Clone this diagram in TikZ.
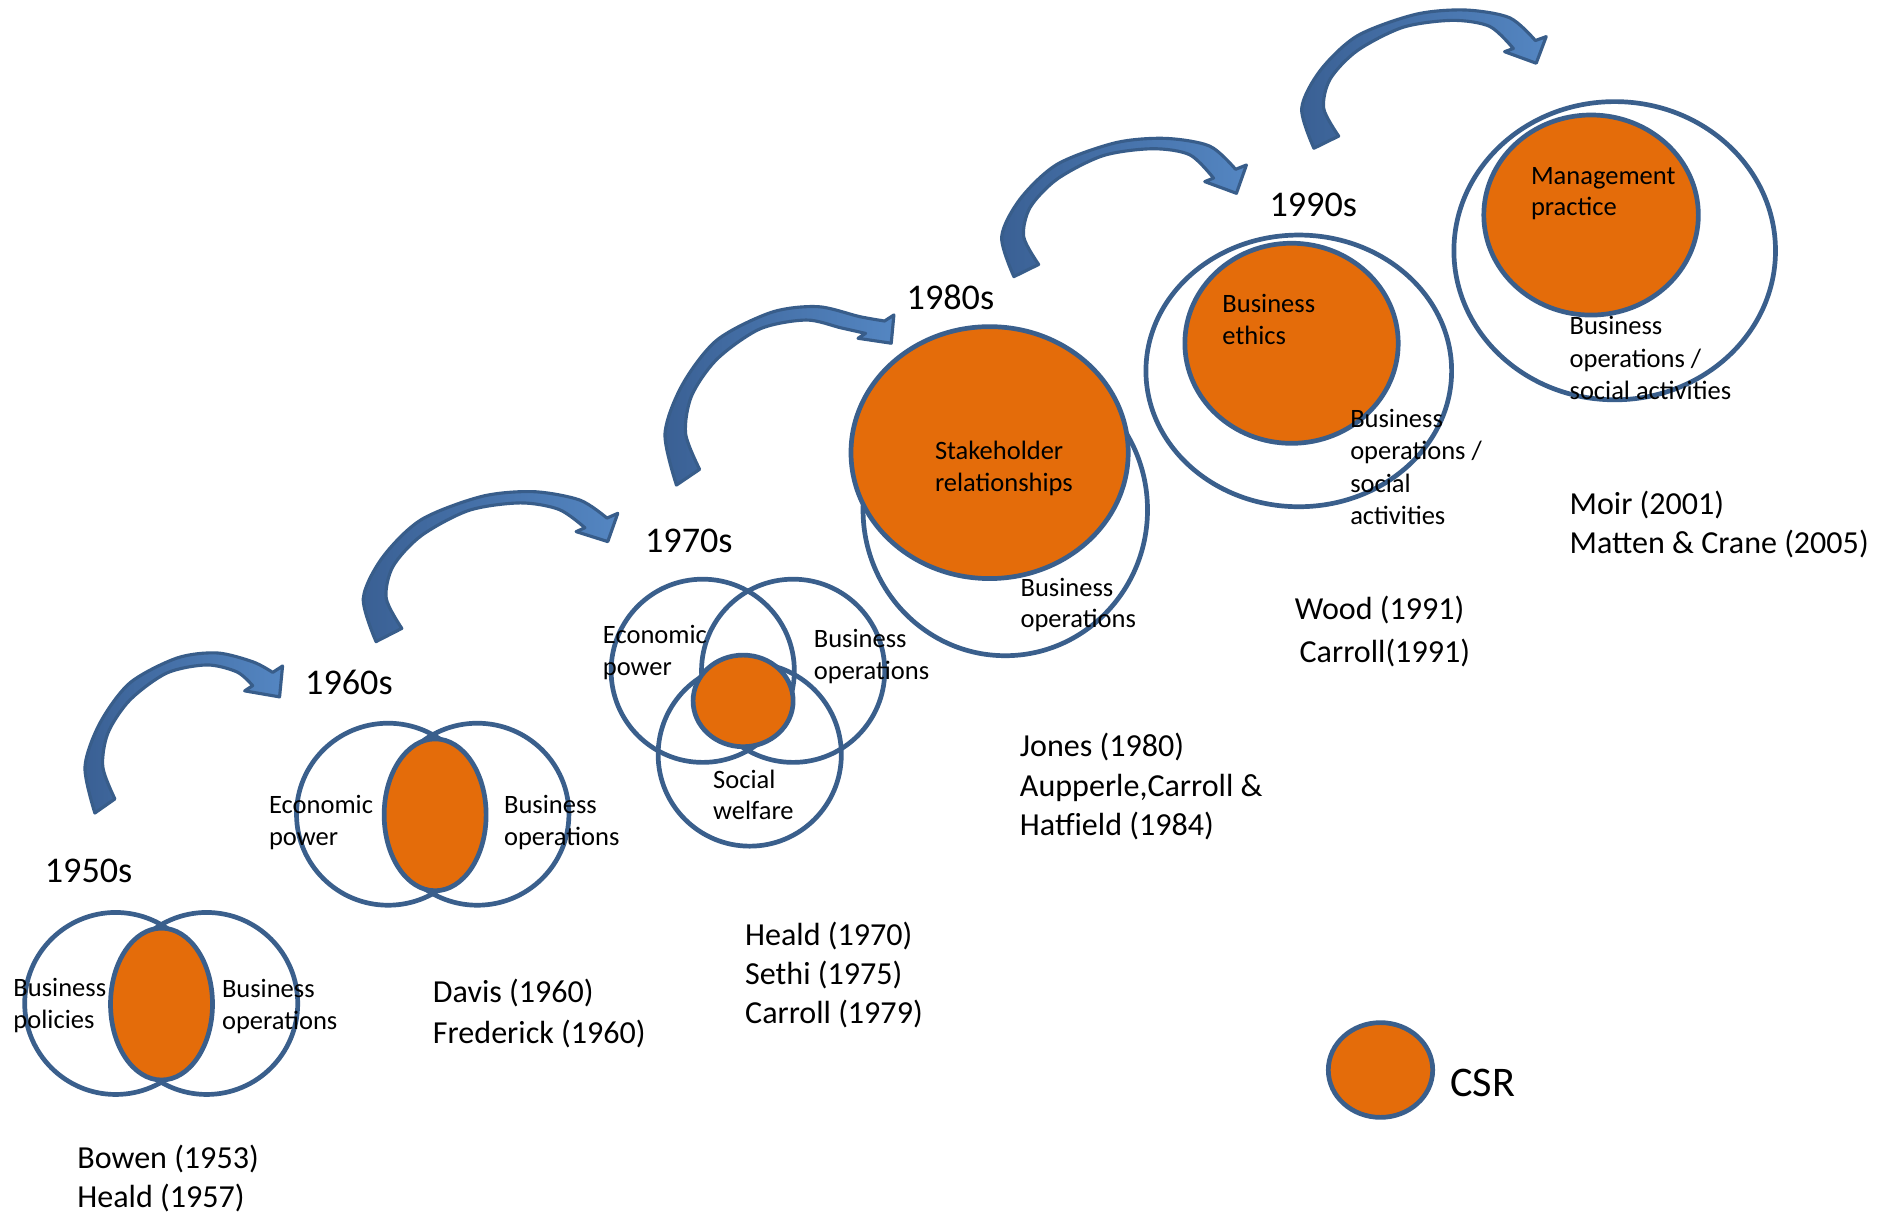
\documentclass[tikz,border=0pt]{standalone}
\usepackage{fontspec}
\setmainfont{Carlito}
\usetikzlibrary{shapes.geometric,calc}
\definecolor{ringblue}{RGB}{58,95,140}
\definecolor{csrorange}{RGB}{228,108,10}
\definecolor{arrowlight}{RGB}{84,134,194}
\definecolor{arrowdark}{RGB}{58,96,148}
\definecolor{arrowline}{RGB}{56,93,138}
\tikzset{
  ring/.style={draw=ringblue, line width=3.9pt, ellipse, inner sep=0pt},
  csr/.style={ring, fill=csrorange},
  lbl/.style={font=\fontsize{22}{27}\selectfont, inner sep=0pt, anchor=base west, align=left},
  auth/.style={font=\fontsize{26.6}{32.5}\selectfont, inner sep=0pt, anchor=base west, align=left},
  decade/.style={font=\fontsize{30}{36}\selectfont, inner sep=0pt, anchor=base west},
  arrowbody/.style={left color=arrowdark, right color=arrowlight, draw=arrowline, line width=2.6pt, line join=round},
}
% #1 name, #2 x0, #3 y0, #4 w, #5 h, #6 outer barb, #7 tip, #8 inner barb
\newcommand{\csrarrow}[8]{%
  \coordinate (#1b1) at #6;
  \coordinate (#1k) at #7;
  \coordinate (#1b2) at #8;
  \coordinate (#1h1) at ($(#1b1)!0.26!(#1b2)$);
  \coordinate (#1h2) at ($(#1b1)!0.79!(#1b2)$);
  \begin{scope}[shift={(#2,#3)}, xscale=#4, yscale=#5]
    \shadedraw[arrowbody]
      plot[smooth] coordinates {(0.05,1) (0,0.712) (0.076,0.437) (0.227,0.187) (0.464,0.032) (0.667,0) (0.849,0.056) (#1h1)}
      -- (#1b1) -- (#1k) -- (#1b2)
      -- plot[smooth] coordinates {(#1h2) (0.768,0.119) (0.616,0.075) (0.414,0.125) (0.227,0.294) (0.116,0.5) (0.090,0.712) (0.151,0.912)}
      -- cycle;
  \end{scope}}
\begin{document}
\begin{tikzpicture}[x=1pt,y=-1pt]
\useasboundingbox (0,0) rectangle (1568,1008);
\fill[white] (0,0) rectangle (1568,1008);

% ---------- 1950s
\node[ring, minimum width=151pt, minimum height=151pt] (c50a) at (96,832.5) {};
\node[ring, minimum width=151pt, minimum height=151pt] (c50b) at (171.5,832.5) {};
\node[csr, minimum width=84.6pt, minimum height=126pt] (o50) at (134,833) {};
\node[decade] (d50) at (37,732.5) {1950s};
\node[lbl] (t50a) at (11,853.5) {Business\\policies};
\node[lbl] (t50b) at (184,854.5) {Business\\operations};
\node[auth] (a50) at (64,1002) {Bowen (1953)\\Heald (1957)};

% ---------- 1960s
\node[ring, minimum width=152pt, minimum height=151pt] (c60a) at (322,675.5) {};
\node[ring, minimum width=152pt, minimum height=151pt] (c60b) at (396,675.5) {};
\node[csr, minimum width=84.6pt, minimum height=126pt] (o60) at (361,676) {};
\node[decade] (d60) at (253,576.5) {1960s};
\node[lbl] (t60a) at (223,701.5) {Economic\\power};
\node[lbl] (t60b) at (418,701.5) {Business\\operations};
\node[auth] (a60) at (359,866) {Davis (1960)\\[1.5pt]Frederick (1960)};

% ---------- 1970s
\node[ring, minimum width=152pt, minimum height=152pt] (c70a) at (583,556.5) {};
\node[ring, minimum width=152pt, minimum height=152pt] (c70b) at (658,556.5) {};
\node[ring, minimum width=152pt, minimum height=152pt] (c70c) at (622,626) {};
\node[csr, minimum width=83pt, minimum height=76pt] (o70) at (616.5,581.5) {};
\node[decade] (d70) at (535,458.5) {1970s};
\node[lbl] (t70a) at (500,560.5) {Economic\\power};
\node[lbl] (t70b) at (675,564) {Business\\operations};
\node[lbl, font=\fontsize{22}{26}\selectfont] (t70c) at (591.5,680) {Social\\welfare};
\node[auth] (a70) at (618,849) {Heald (1970)\\Sethi (1975)\\Carroll (1979)};

% ---------- 1980s
\node[ring, minimum width=236pt, minimum height=242pt] (c80) at (834,423) {};
\node[csr, minimum width=230pt, minimum height=209pt] (o80) at (821,375.5) {};
\node[decade] (d80) at (752,256.5) {1980s};
\node[lbl] (t80a) at (775.5,408) {Stakeholder\\relationships};
\node[lbl, font=\fontsize{22}{26}\selectfont] (t80b) at (846.5,520.5) {Business\\operations};
\node[auth] (a80) at (846,693) {Jones (1980)\\Aupperle,Carroll \&\\Hatfield (1984)};

% ---------- 1990s
\node[ring, minimum width=253.6pt, minimum height=225.4pt] (c90) at (1077.5,307.7) {};
\node[csr, minimum width=177pt, minimum height=166pt] (o90) at (1071.5,284.8) {};
\node[decade] (d90) at (1053,179.5) {1990s};
\node[lbl] (t90a) at (1014,286) {Business\\ethics};
\node[lbl] (t90b) at (1120,435.5) {Business\\operations /\\social\\activities};
\node[auth] (a90a) at (1074,514) {Wood (1991)};
\node[auth] (a90b) at (1078,550) {Carroll(1991)};

% ---------- 2000s
\node[ring, minimum width=266.8pt, minimum height=247.4pt] (c00) at (1339.6,208) {};
\node[csr, minimum width=178pt, minimum height=166pt] (o00) at (1320,178.4) {};
\node[lbl, font=\fontsize{22}{26}\selectfont] (t00a) at (1270,179) {Management\\practice};
\node[lbl] (t00b) at (1302,331.5) {Business\\operations /\\social activities};
\node[auth] (a00) at (1302,459) {Moir (2001)\\Matten \& Crane (2005)};

% ---------- legend
\node[csr, minimum width=86.6pt, minimum height=78.6pt] (leg) at (1145.3,887.7) {};
\node[font=\fontsize{35}{40}\selectfont, inner sep=0pt, anchor=base west] (legt) at (1203,910) {CSR};

% ---------- arrows
\csrarrow{ar1}{70.5}{541.7}{164.3}{132.8}{(234.8,552.5)}{(232.3,578.2)}{(203.3,573.2)}
\csrarrow{ar2}{301.4}{407.9}{211.6}{124.4}{(513,425.9)}{(504.7,449.4)}{(478.4,441.1)}
\csrarrow{ar3}{551.7}{254.4}{190.2}{148}{(741.9,261.3)}{(739.7,284.8)}{(712.1,280.7)}
\csrarrow{ar4}{831}{114.8}{203.3}{114.7}{(1034.3,136.9)}{(1026,160.4)}{(999.7,150.7)}
\csrarrow{ar5}{1079.9}{8.3}{203.2}{114.7}{(1283.1,30.4)}{(1274.8,52.5)}{(1248.5,42.9)}
\end{tikzpicture}
\end{document}
